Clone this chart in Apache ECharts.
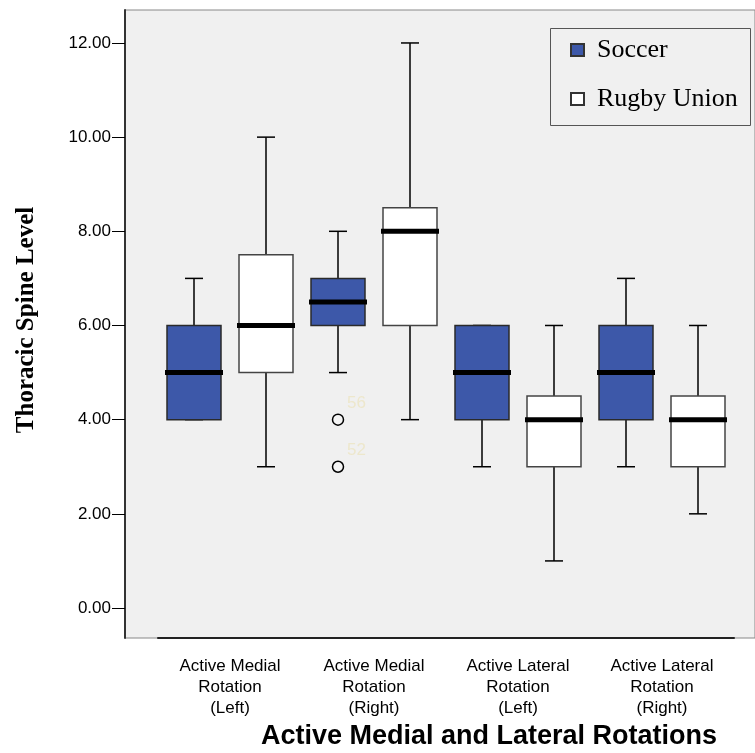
<!DOCTYPE html>
<html>
<head>
<meta charset="utf-8">
<script src="https://cdn.jsdelivr.net/npm/echarts@6/dist/echarts.min.js"></script>
<style>html,body{margin:0;padding:0;background:#fff}#c{width:755px;height:753px}</style>
</head>
<body>
<div id="c"></div>
<script>
const categories = ['Active Medial\nRotation\n(Left)', 'Active Medial\nRotation\n(Right)', 'Active Lateral\nRotation\n(Left)', 'Active Lateral\nRotation\n(Right)'];
const yTicks = [0, 2, 4, 6, 8, 10, 12];
// five-number summaries per category: min, Q1, median, Q3, max
const soccerMin = [4, 5, 3, 3];
const soccerQ1 = [4, 6, 4, 4];
const soccerMedian = [5, 6.5, 5, 5];
const soccerQ3 = [6, 7, 6, 6];
const soccerMax = [7, 8, 6, 7];
const rugbyMin = [3, 4, 1, 2];
const rugbyQ1 = [5, 6, 3, 3];
const rugbyMedian = [6, 8, 4, 4];
const rugbyQ3 = [7.5, 8.5, 4.5, 4.5];
const rugbyMax = [10, 12, 6, 6];
// soccer outliers: category index, value, case label
const outlierCategory = [1, 1];
const outlierValue = [4, 3];
const outlierLabels = ['56', '52'];

function rows(mn, q1, md, q3, mx) {
  return categories.map((c, i) => [i, mn[i], q1[i], md[i], q3[i], mx[i]]);
}

function makeRender(offsetFrac, fill, stroke) {
  return function (params, api) {
    const cat = api.value(0);
    const band = api.size([1, 0])[0];
    const cx = api.coord([cat, 0])[0] + offsetFrac * band;
    const y = i => api.coord([cat, api.value(i)])[1];
    const yMin = y(1), yQ1 = y(2), yMed = y(3), yQ3 = y(4), yMax = y(5);
    const bw = band * 0.375, cw = band * 0.125;
    const ls = { stroke: '#000', lineWidth: 1.5 };
    return {
      type: 'group',
      children: [
        { type: 'line', shape: { x1: cx, y1: yQ3, x2: cx, y2: yMax }, style: ls },
        { type: 'line', shape: { x1: cx, y1: yQ1, x2: cx, y2: yMin }, style: ls },
        { type: 'line', shape: { x1: cx - cw / 2, y1: yMax, x2: cx + cw / 2, y2: yMax }, style: ls },
        { type: 'line', shape: { x1: cx - cw / 2, y1: yMin, x2: cx + cw / 2, y2: yMin }, style: ls },
        { type: 'rect', shape: { x: cx - bw / 2, y: yQ3, width: bw, height: yQ1 - yQ3 },
          style: { fill: fill, stroke: stroke, lineWidth: 1.5 } },
        { type: 'line', shape: { x1: cx - bw / 2 - 2, y1: yMed, x2: cx + bw / 2 + 2, y2: yMed },
          style: { stroke: '#000', lineWidth: 5 } }
      ]
    };
  };
}

const chart = echarts.init(document.getElementById('c'), null, { renderer: 'canvas' });
const YMIN = -0.637, YMAX = 12.70;
chart.setOption({
  animation: false,
  backgroundColor: '#ffffff',
  grid: [
    { left: 125, right: 0, top: 10, bottom: 115, show: true, backgroundColor: '#f0f0f0', borderColor: '#888', borderWidth: 1 },
    { left: 158, right: 21, top: 10, bottom: 115 }
  ],
  xAxis: [
    { gridIndex: 0, type: 'value', show: false, min: 0, max: 1 },
    { gridIndex: 1, type: 'category', data: categories,
      axisLine: { onZero: false, lineStyle: { color: '#222', width: 2 } },
      axisTick: { alignWithLabel: true, length: 12, lineStyle: { color: '#000', width: 1 } },
      axisLabel: { interval: 0, margin: 18, fontSize: 17, lineHeight: 21, color: '#000', fontFamily: 'Liberation Sans, Arial' },
      splitLine: { show: false } }
  ],
  yAxis: [
    { gridIndex: 0, type: 'value', min: YMIN, max: YMAX,
      axisLine: { show: true, onZero: false, lineStyle: { color: '#333', width: 2 } },
      axisTick: { show: true, customValues: yTicks, length: 13, lineStyle: { color: '#000', width: 1 } },
      axisLabel: { customValues: yTicks, margin: 14, fontSize: 17, color: '#000', fontFamily: 'Liberation Sans, Arial',
        formatter: v => v.toFixed(2) },
      splitLine: { show: false } },
    { gridIndex: 1, type: 'value', min: YMIN, max: YMAX, show: false, splitLine: { show: false } }
  ],
  legend: {
    data: [{ name: 'Soccer', icon: 'rect' }, { name: 'Rugby Union', icon: 'rect' }],
    orient: 'vertical', left: 570, top: 37, padding: 0,
    itemWidth: 13, itemHeight: 12, itemGap: 23,
    textStyle: { fontSize: 26, fontFamily: 'Liberation Serif, Times New Roman', color: '#000', padding: [0, 0, 0, 8] },
    selectedMode: false
  },
  graphic: [
    { type: 'rect', shape: { x: 550.5, y: 28.5, width: 200, height: 97 },
      style: { fill: 'none', stroke: '#555', lineWidth: 1 }, z: 10 },
    { type: 'text', x: 27, y: 320, rotation: Math.PI / 2,
      style: { text: 'Thoracic Spine Level', font: 'bold 25px "Liberation Serif", "Times New Roman"', fill: '#000',
        align: 'center', verticalAlign: 'middle' } },
    { type: 'text', x: 489, y: 737,
      style: { text: 'Active Medial and Lateral Rotations', font: 'bold 27px "Liberation Sans", Arial', fill: '#000',
        align: 'center', verticalAlign: 'middle' } }
  ],
  series: [
    { name: 'Soccer', type: 'custom', xAxisIndex: 1, yAxisIndex: 1,
      itemStyle: { color: '#3d58a9', borderColor: '#333', borderWidth: 1 },
      encode: { x: 0, y: [1, 2, 3, 4, 5] },
      renderItem: makeRender(-0.25, '#3d58a9', '#2a2a2a'),
      data: rows(soccerMin, soccerQ1, soccerMedian, soccerQ3, soccerMax) },
    { name: 'Rugby Union', type: 'custom', xAxisIndex: 1, yAxisIndex: 1,
      itemStyle: { color: '#ffffff', borderColor: '#333', borderWidth: 1 },
      encode: { x: 0, y: [1, 2, 3, 4, 5] },
      renderItem: makeRender(0.25, '#ffffff', '#444'),
      data: rows(rugbyMin, rugbyQ1, rugbyMedian, rugbyQ3, rugbyMax) },
    { name: 'Outliers', type: 'custom', xAxisIndex: 1, yAxisIndex: 1,
      encode: { x: 0, y: 1 },
      renderItem: function (params, api) {
        const cat = api.value(0);
        const band = api.size([1, 0])[0];
        const p = api.coord([cat, api.value(1)]);
        const cx = p[0] - 0.25 * band, cy = p[1];
        return { type: 'group', children: [
          { type: 'circle', shape: { cx: cx, cy: cy, r: 5.5 }, style: { fill: '#f4f4f4', stroke: '#000', lineWidth: 1.5 } },
          { type: 'text', x: cx + 9, y: cy - 16, style: { text: outlierLabels[params.dataIndex],
            font: '17px "Liberation Sans", Arial', fill: '#ede7cc', align: 'left', verticalAlign: 'middle' } }
        ] };
      },
      data: outlierCategory.map((c, i) => [c, outlierValue[i]]) }
  ]
});
</script>
</body>
</html>
